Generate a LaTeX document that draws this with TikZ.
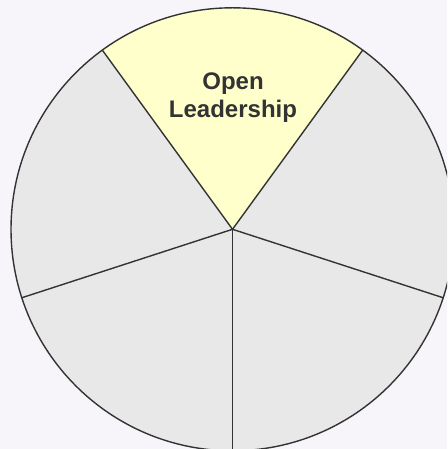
\documentclass[tikz,border=0pt]{standalone}
\usepackage{fontspec}
\setmainfont{Liberation Sans}
\usetikzlibrary{calc}
\definecolor{bg}{HTML}{F7F5F9}
\definecolor{sect}{HTML}{E8E8E8}
\definecolor{hl}{HTML}{FFFFCC}
\definecolor{ink}{HTML}{333333}
\begin{document}
\begin{tikzpicture}[x=1pt,y=1pt,
  sector/.style={draw=ink,line width=1.4pt,line join=round},
  lbl/.style={text=ink,font=\fontsize{24}{27.7}\selectfont\bfseries,align=center}]
\path[fill=bg] (0,0) rectangle (447,449);
\useasboundingbox (0,0) rectangle (447,449);
\coordinate (c) at (232.5,219.7);
\def\R{221.5}
\begin{scope}
\clip (0,0) rectangle (447,449);
\fill[hl] (c) -- ++(54:\R) arc[start angle=54,end angle=126,radius=\R] -- cycle;
\fill[sect] (c) -- ++(126:\R) arc[start angle=126,end angle=414,radius=\R] -- cycle;
\draw[sector] (c) circle[radius=\R];
\foreach \a/\n in {54/p1,126/p2,198/p3,270/p4,342/p5}{
  \coordinate (\n) at ($(c)+(\a:\R)$);
}
\draw[sector] (c) -- (p1);
\draw[sector] (c) -- (p2);
\draw[sector] (c) -- (p3);
\draw[sector] (c) -- (p4);
\draw[sector] (c) -- (p5);
\end{scope}
\node[lbl] (t) at (233,351.5) {Open\\Leadership};
\end{tikzpicture}
\end{document}
